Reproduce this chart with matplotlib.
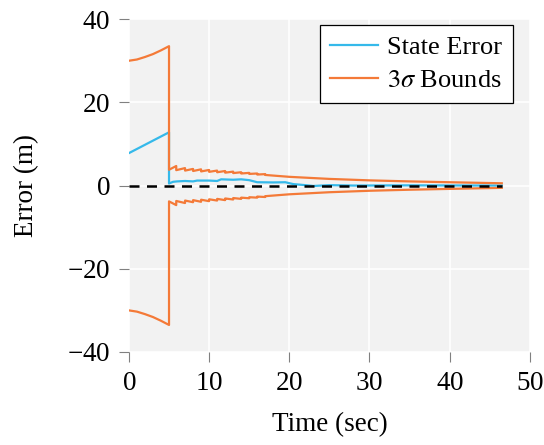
import numpy as np
import matplotlib
matplotlib.use("Agg")
import matplotlib.pyplot as plt

plt.rcParams['font.family'] = ['Liberation Serif', 'DejaVu Serif']
plt.rcParams['mathtext.fontset'] = 'stix'
plt.rcParams['axes.formatter.use_mathtext'] = True

# 3-sigma bound (upper half, lower is mirrored)
bound_t = [0, 1, 2, 3, 4, 5, 5, 5.9, 5.9, 7, 7, 8, 8, 9, 9, 10, 10, 11, 11,
           12, 12, 13, 13, 14, 14, 15, 15, 16, 16, 17, 17, 20, 25, 30, 35, 40, 46.5]
bound = [30.0, 30.3, 30.9, 31.6, 32.5, 33.5, 3.8, 4.7, 3.7, 4.2, 3.6, 4.0, 3.5,
         3.9, 3.4, 3.75, 3.3, 3.6, 3.2, 3.5, 3.1, 3.35, 3.0, 3.2, 2.9, 3.05, 2.8,
         2.9, 2.65, 2.75, 2.55, 2.1, 1.6, 1.25, 1.0, 0.8, 0.55]

# state error
err_t = [0, 5, 5, 5.5, 6, 7, 8, 8.5, 10, 11, 11.5, 13, 14, 15, 16, 18, 19.5,
         20.5, 22, 23, 25, 28, 35, 46.5]
err = [7.8, 12.8, 0.5, 0.9, 1.0, 1.1, 1.0, 1.2, 1.2, 1.1, 1.5, 1.4, 1.5, 1.3,
       0.8, 0.75, 0.8, 0.35, 0.1, -0.1, 0.1, 0.0, 0.05, 0.0]

blue = '#35b9ea'
orange = '#f47a38'

fig = plt.figure(figsize=(5.44, 4.45), dpi=100)
ax = fig.add_axes([0.237, 0.209, 0.737, 0.748])
ax.set_facecolor('#f2f2f2')
ax.grid(True, color='white', linewidth=1.2)
ax.set_axisbelow(True)
for s in ax.spines.values():
    s.set_visible(False)

ax.plot(err_t, err, color=blue, lw=1.6, label='State Error')
ax.plot(bound_t, bound, color=orange, lw=1.6, label=r'$3\sigma$ Bounds')
ax.plot(bound_t, -np.array(bound), color=orange, lw=1.6)
ax.plot([0, 46.5], [0, 0], color='black', lw=1.8, ls=(0, (4, 3)))

ax.set_xlim(0, 50)
ax.set_ylim(-40, 40)
ax.set_xticks([0, 10, 20, 30, 40, 50])
ax.set_yticks([-40, -20, 0, 20, 40])
ax.tick_params(direction='out', length=7.5, width=0.8, color='#808080',
               labelsize=19.5)
ax.tick_params(axis='y', pad=6)
ax.tick_params(axis='x', pad=6)
ax.set_xlabel('Time (sec)', fontsize=19.5, labelpad=12)
ax.set_ylabel('Error (m)', fontsize=19.5, labelpad=20)

leg = ax.legend(loc='upper right', bbox_to_anchor=(0.97, 0.999), fontsize=19,
                fancybox=False, edgecolor='black', framealpha=1,
                handlelength=1.8, handletextpad=0.35, borderpad=0.4,
                labelspacing=0.38, borderaxespad=0.2)
leg.get_frame().set_linewidth(0.9)

fig.savefig('out.png', dpi=100)
